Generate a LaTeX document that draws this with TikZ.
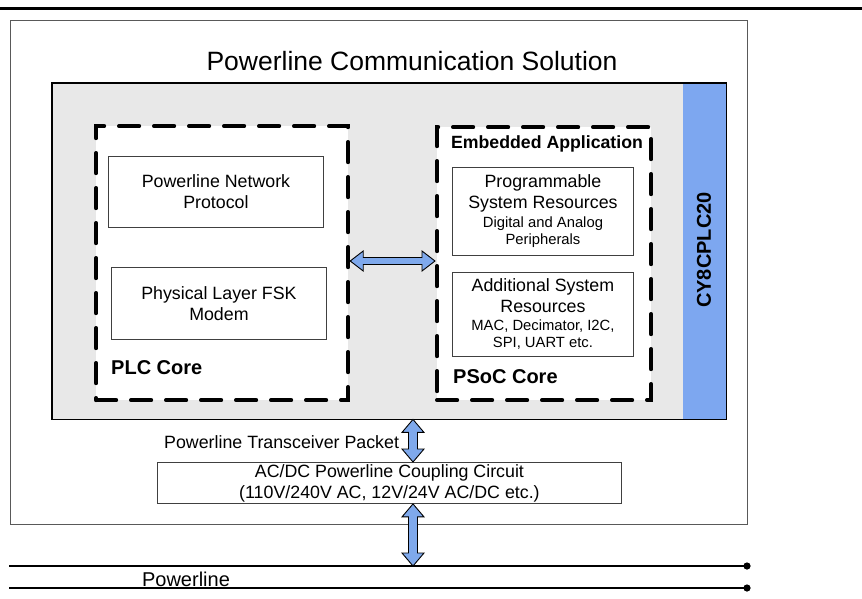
\documentclass[tikz,border=0pt]{standalone}
\usepackage{fontspec}
\setmainfont{Liberation Sans}
\usetikzlibrary{calc}
\definecolor{graybg}{HTML}{E8E8E8}
\definecolor{stripblue}{HTML}{7DA7F0}
\definecolor{arrblue}{HTML}{7FA9EC}
\newcommand\bigf{\fontsize{17.8}{21}\selectfont}
\newcommand\smallf{\fontsize{14.8}{17}\selectfont}
\newcommand\dblarrV[2]{%
  \filldraw[arrowstyle] (#1) -- ($(#1)+(11,13)$) -- ($(#1)+(4.5,13)$) -- ($(#2)+(4.5,-13)$) -- ($(#2)+(11,-13)$) -- (#2)
    -- ($(#2)+(-11,-13)$) -- ($(#2)+(-4.5,-13)$) -- ($(#1)+(-4.5,13)$) -- ($(#1)+(-11,13)$) -- cycle;}
\newcommand\dblarrH[2]{%
  \filldraw[arrowstyle] (#1) -- ($(#1)+(13,-10)$) -- ($(#1)+(13,-3.5)$) -- ($(#2)+(-13,-3.5)$) -- ($(#2)+(-13,-10)$) -- (#2)
    -- ($(#2)+(-13,10)$) -- ($(#2)+(-13,3.5)$) -- ($(#1)+(13,3.5)$) -- ($(#1)+(13,10)$) -- cycle;}
\tikzset{
  arrowstyle/.style={fill=arrblue, draw=black, line width=0.9pt, line join=miter},
  plainbox/.style={draw=black!75, line width=0.9pt, fill=white, inner sep=0pt, anchor=north west},
  corebox/.style={draw=black, line width=4.2pt, fill=white, dash pattern=on 20pt off 15pt, line cap=round, inner sep=0pt, anchor=north west},
  bigtext/.style={font=\bigf, align=center, inner sep=0pt},
  smalltext/.style={font=\smallf, align=center, inner sep=0pt},
  boldlabel/.style={font=\fontsize{20}{24}\selectfont\bfseries, inner sep=0pt},
}
\begin{document}
\begin{tikzpicture}[x=1pt,y=-1pt]
\useasboundingbox (0,0) rectangle (862,598);
% top rule
\coordinate (rulel) at (0,8);
\coordinate (ruler) at (862,8);
\draw[line width=3pt] (rulel) -- (ruler);
% outer box
\node[draw=black!65, line width=0.9pt, minimum width=737pt, minimum height=504pt, inner sep=0pt, anchor=north west] (outer) at (10,20) {};
\node[font=\fontsize{26.5}{30}\selectfont, anchor=base, inner sep=0pt] (title) at (412,70) {Powerline Communication Solution};
% gray chip box
\node[fill=graybg, minimum width=674pt, minimum height=336pt, inner sep=0pt, anchor=north west] (chip) at (52,83) {};
\node[fill=stripblue, minimum width=43pt, minimum height=336pt, inner sep=0pt, anchor=north west] (strip) at (683,83) {};
\draw[line width=1.3pt] (chip.north west) rectangle (chip.south east);
\node[boldlabel, rotate=90] (chipname) at (704,250) {CY8CPLC20};
% PLC core
\node[corebox, minimum width=252pt, minimum height=274pt] (plc) at (94,124) {};
\node[plainbox, minimum width=215pt, minimum height=71pt] (np) at (108,156) {};
\node[bigtext] (nptext) at (np.center) {Powerline Network\\Protocol};
\node[plainbox, minimum width=215pt, minimum height=72pt] (phy) at (111,267) {};
\node[bigtext] (phytext) at (phy.center) {Physical Layer FSK\\Modem};
\node[boldlabel, anchor=west] (plclabel) at (111,368) {PLC Core};
% PSoC core
\node[corebox, minimum width=214pt, minimum height=273pt] (psoc) at (435,125) {};
\node[font=\fontsize{17.7}{21}\selectfont\bfseries, inner sep=0pt] (emb) at (547,144) {Embedded Application};
\node[plainbox, minimum width=181pt, minimum height=88pt] (prog) at (452,167) {};
\node[bigtext] (progtext1) at ($(prog.north)+(0,26)$) {Programmable\\System Resources};
\node[smalltext] (progtext2) at ($(prog.north)+(0,65)$) {Digital and Analog\\Peripherals};
\node[plainbox, minimum width=181pt, minimum height=84pt] (add) at (452,272) {};
\node[bigtext] (addtext1) at ($(add.north)+(0,24)$) {Additional System\\Resources};
\node[smalltext] (addtext2) at ($(add.north)+(0,63)$) {MAC, Decimator, I2C,\\SPI, UART etc.};
\node[boldlabel, anchor=west] (psoclabel) at (453,377) {PSoC Core};
% link arrow between cores
\coordinate (hy) at (0,261);
\dblarrH{plc.east |- hy}{psoc.west |- hy}
% coupling circuit
\node[plainbox, minimum width=464pt, minimum height=41pt] (acdc) at (157,462) {};
\node[bigtext] (acdctext) at (acdc.center) {AC/DC Powerline Coupling Circuit\\(110V/240V AC, 12V/24V AC/DC etc.)};
\node[font=\bigf, anchor=west, inner sep=0pt] (packet) at (164,442) {Powerline Transceiver Packet};
\coordinate (vx) at (413,0);
% powerline
\coordinate (pl1a) at (9,566);
\coordinate (pl1b) at (747,566);
\coordinate (pl2a) at (9,588);
\coordinate (pl2b) at (747,588);
\draw[line width=1.3pt] (pl1a) -- (pl1b);
\draw[line width=2.4pt] (pl2a) -- (pl2b);
\fill (pl1b) circle (3.6pt);
\fill (pl2b) circle (3.6pt);
\node[font=\fontsize{20}{24}\selectfont, inner sep=0pt] (pltext) at (186,579) {Powerline};
% vertical arrows
\dblarrV{vx |- chip.south}{vx |- acdc.north}
\dblarrV{vx |- acdc.south}{vx |- pl1a}
\end{tikzpicture}
\end{document}
